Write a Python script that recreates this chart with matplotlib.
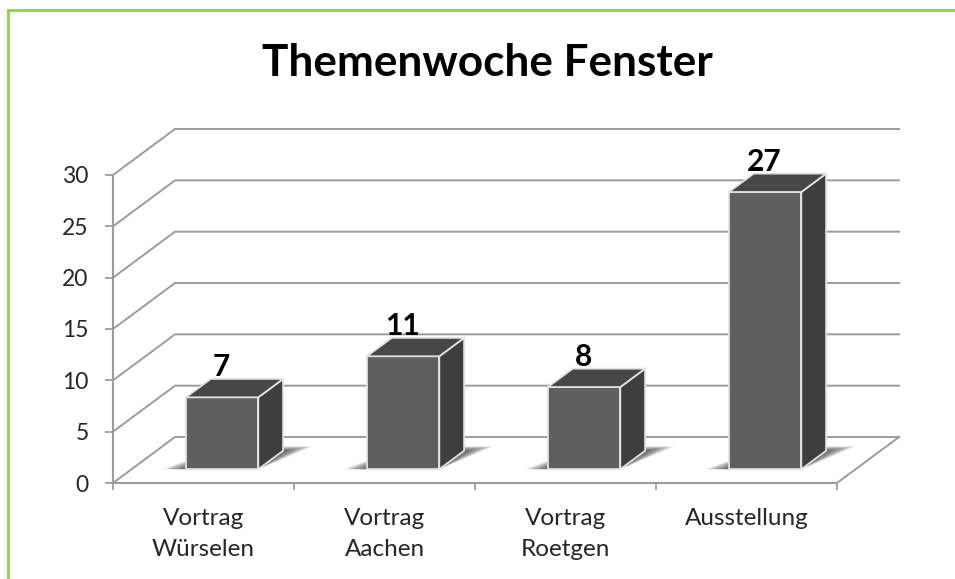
"""Themenwoche Fenster, 3D style column chart."""

import matplotlib

matplotlib.use("Agg")

import matplotlib.pyplot as plt
from matplotlib.lines import Line2D
from matplotlib.patches import Polygon

plt.rcParams["font.family"] = ["Lato", "DejaVu Sans"]

categories = ["Vortrag\nWürselen", "Vortrag\nAachen", "Vortrag\nRoetgen", "Ausstellung"]
values = [7, 11, 8, 27]
y_ticks = [0, 5, 10, 15, 20, 25, 30]
title = "Themenwoche Fenster"

W, H = 955, 579
FRONT_LEFT, FRONT_RIGHT, FRONT_BOTTOM, FRONT_TOP = 113, 837, 483, 175
DEPTH_PX = (62, 46)

GRID = "#9c9c9c"
TEXT = "#262626"

fig = plt.figure(figsize=(W / 100, H / 100), dpi=100, facecolor="white")
ax = fig.add_axes([
    FRONT_LEFT / W,
    1 - FRONT_BOTTOM / H,
    (FRONT_RIGHT - FRONT_LEFT) / W,
    (FRONT_BOTTOM - FRONT_TOP) / H,
])
ax.set_xlim(0, len(categories))
ax.set_ylim(0, 30)
ax.patch.set_visible(False)

# data units per full step of depth
dx = DEPTH_PX[0] / ((FRONT_RIGHT - FRONT_LEFT) / len(categories))
dy = DEPTH_PX[1] / ((FRONT_BOTTOM - FRONT_TOP) / 30)


def project(x, y, depth):
    return x + dx * depth, y + dy * depth


def face(points, color, **kwargs):
    poly = Polygon(points, closed=True, facecolor=color, clip_on=False, **kwargs)
    ax.add_patch(poly)


# walls and floor
for tick in y_ticks:
    xs, ys = zip(project(0, tick, 0), project(0, tick, 1), project(len(categories), tick, 1))
    ax.plot(xs, ys, color=GRID, lw=1.4, clip_on=False, zorder=1, solid_joinstyle="miter")
xs, ys = zip(project(len(categories), 0, 1), project(len(categories), 0, 0))
ax.plot(xs, ys, color=GRID, lw=1.4, clip_on=False, zorder=1)

# bars
bar_width = 0.4
bar_start = 0.3
bar_depth = 0.4
shadow_steps = 12
for index, value in enumerate(values):
    left = index + 0.5 - bar_width / 2
    right = left + bar_width
    near = bar_start
    far = bar_start + bar_depth

    # soft shadow on the floor, stacked from wide to narrow
    for step in range(shadow_steps):
        grow = 1 - step / (shadow_steps - 1)
        face(
            [
                project(left - 0.13 * grow, 0, near),
                project(right, 0, near),
                project(right + 0.13 * grow, 0, far + 0.1 * grow),
                project(left + 0.05, 0, far + 0.1 * grow),
            ],
            "#000000",
            alpha=0.075,
            edgecolor="none",
            zorder=2,
        )

    edge = dict(edgecolor="#e2e2e2", linewidth=1.3, joinstyle="round", zorder=3)
    face(
        [project(left, 0, near), project(right, 0, near), project(right, value, near), project(left, value, near)],
        "#5f5f5f",
        **edge,
    )
    face(
        [project(right, 0, near), project(right, 0, far), project(right, value, far), project(right, value, near)],
        "#3e3e3e",
        **edge,
    )
    face(
        [project(left, value, near), project(right, value, near), project(right, value, far), project(left, value, far)],
        "#474747",
        **edge,
    )

    label_x, label_y = project(index + 0.5, value, far)
    ax.annotate(
        str(value),
        (project(index + 0.5, value, near)[0] - 0.005, label_y),
        xytext=(0, 2.2),
        textcoords="offset points",
        ha="center",
        va="baseline",
        fontsize=21.5,
        fontweight="bold",
        color="black",
        zorder=5,
        annotation_clip=False,
    )

# axes
for side in ("top", "right"):
    ax.spines[side].set_visible(False)
for side in ("left", "bottom"):
    ax.spines[side].set_color(GRID)
    ax.spines[side].set_linewidth(1.5)
    ax.spines[side].set_zorder(2)

ax.set_yticks(y_ticks)
ax.set_xticks(range(len(categories) + 1))
ax.set_xticklabels([])
ax.set_xticks([i + 0.5 for i in range(len(categories))], categories, minor=True)
ax.tick_params(axis="x", which="major", length=5, width=1.3, color=GRID)
ax.tick_params(axis="x", which="minor", length=0, pad=18, labelsize=17.5, labelcolor=TEXT)
ax.tick_params(axis="y", length=6, width=1.3, color=GRID, pad=11.5, labelsize=16.5, labelcolor=TEXT)
for label in ax.get_xticklabels(minor=True):
    label.set_linespacing(1.6)

fig.text(487 / W, 1 - 63 / H, title, ha="center", va="center", fontsize=31.8, fontweight="bold", color="black")

# green frame of the slide, only top and left are in view
frame = dict(color="#92d050", lw=2.0, transform=fig.transFigure, solid_capstyle="butt")
fig.add_artist(Line2D([7.5 / W, 7.5 / W], [0, 1 - 9 / H], **frame))
fig.add_artist(Line2D([7 / W, 1], [1 - 9.5 / H, 1 - 9.5 / H], **frame))

fig.savefig("out.png", dpi=100)
